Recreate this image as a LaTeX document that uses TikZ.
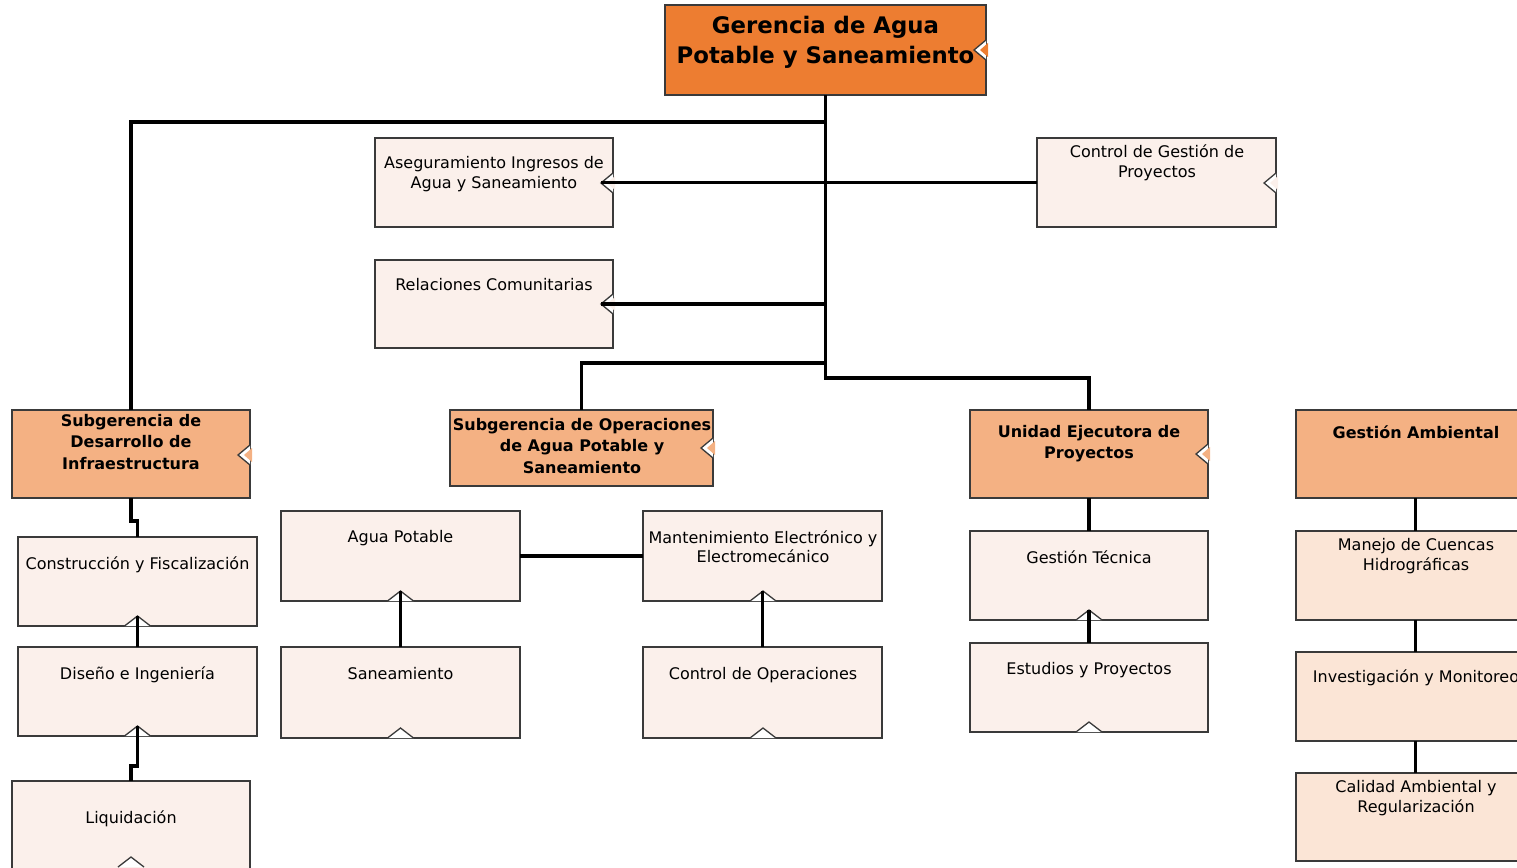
\documentclass[tikz,border=0pt]{standalone}
\usepackage{fontspec}
\setmainfont{DejaVu Sans}
\usetikzlibrary{calc}
\definecolor{cTop}{HTML}{ED7D31}
\definecolor{cSub}{HTML}{F4B183}
\definecolor{cLight}{HTML}{FBF0EB}
\definecolor{cPeach}{HTML}{FBE5D6}
\definecolor{cBorder}{HTML}{3A3A3A}
\newcommand\obox[6]{\node[boxshape,fill=#6,minimum width={(#4-#2)*1pt},minimum height={(#5-#3)*1pt}] (#1) at ({(#2+#4)/2},{(#3+#5)/2}) {};}
\newcommand\rnotch[3]{%
  \fill[white] (#1,#2-10) -- (#1-12,#2) -- (#1,#2+10) -- cycle;
  \fill[#3] (#1-6,#2) -- (#1+2,#2-7) -- (#1+2,#2+7) -- cycle;
  \draw[notchline] (#1,#2-10) -- (#1-12,#2) -- (#1,#2+10);}
\newcommand\bnotch[3]{%
  \fill[white] (#1-13,#2) -- (#1,#2-10) -- (#1+13,#2) -- cycle;
  \draw[notchline] (#1-13,#2) -- (#1,#2-10) -- (#1+13,#2);}
\begin{document}
\begin{tikzpicture}[x=1pt,y=-1pt,
  boxshape/.style={draw=cBorder,line width=1.4pt,rectangle,inner sep=0pt,outer sep=0pt},
  notchline/.style={draw=cBorder,line width=1.3pt,line join=miter},
  conn/.style={line width=3.6pt,black},
  txt/.style={anchor=north,align=center,inner sep=0pt,font=\fontsize{16}{19.8}\selectfont,text=black},
  btxt/.style={anchor=north,align=center,inner sep=0pt,font=\fontsize{16}{21.5}\selectfont\bfseries,text=black},
  ttxt/.style={anchor=north,align=center,inner sep=0pt,font=\fontsize{22.8}{29.5}\selectfont\bfseries,text=black}]
\useasboundingbox (0,0) rectangle (1517,867);
\begin{scope}
\clip (0,0) rectangle (1517,867);
% boxes
\obox{top}{665}{5}{986}{95}{cTop}
\obox{ase}{375}{138}{613}{227}{cLight}
\obox{rc}{375}{260}{613}{348}{cLight}
\obox{cge}{1037}{138}{1276}{227}{cLight}
\obox{sd}{12}{410}{250}{498}{cSub}
\obox{so}{450}{410}{713}{486}{cSub}
\obox{ue}{970}{410}{1208}{498}{cSub}
\obox{ga}{1296}{410}{1535}{498}{cSub}
\obox{cf}{18}{537}{257}{626}{cLight}
\obox{di}{18}{647}{257}{736}{cLight}
\obox{li}{12}{781}{250}{880}{cLight}
\obox{ap}{281}{511}{520}{601}{cLight}
\obox{sa}{281}{647}{520}{738}{cLight}
\obox{me}{643}{511}{882}{601}{cLight}
\obox{co}{643}{647}{882}{738}{cLight}
\obox{gt}{970}{531}{1208}{620}{cLight}
\obox{ep}{970}{643}{1208}{732}{cLight}
\obox{mc}{1296}{531}{1535}{620}{cPeach}
\obox{im}{1296}{652}{1535}{741}{cPeach}
\obox{ca}{1296}{773}{1535}{861}{cPeach}
% texts
\node[ttxt] (top-t) at (825.5,16) {Gerencia de Agua\\Potable y Saneamiento};
\node[txt] (ase-t) at (494,156) {Aseguramiento Ingresos de\\Agua y Saneamiento};
\node[txt] (rc-t) at (494,278) {Relaciones Comunitarias};
\node[txt] (cge-t) at (1157,145) {Control de Gestión de\\Proyectos};
\node[btxt] (sd-t) at (131,414) {Subgerencia de\\Desarrollo de\\Infraestructura};
\node[btxt] (so-t) at (582,418) {Subgerencia de Operaciones\\de Agua Potable y\\Saneamiento};
\node[btxt] (ue-t) at (1089,425) {Unidad Ejecutora de\\Proyectos};
\node[btxt] (ga-t) at (1416,425) {Gestión Ambiental};
\node[txt] (cf-t) at (137.5,556) {Construcción y Fiscalización};
\node[txt] (di-t) at (137.5,666) {Diseño e Ingeniería};
\node[txt] (li-t) at (131,810) {Liquidación};
\node[txt] (ap-t) at (400.5,530) {Agua Potable};
\node[txt] (sa-t) at (400.5,667) {Saneamiento};
\node[txt] (me-t) at (763,530) {Mantenimiento Electrónico y\\Electromecánico};
\node[txt] (co-t) at (763,667) {Control de Operaciones};
\node[txt] (gt-t) at (1089,550) {Gestión Técnica};
\node[txt] (ep-t) at (1089,662) {Estudios y Proyectos};
\node[txt] (mc-t) at (1416,538) {Manejo de Cuencas\\Hidrográficas};
\node[txt] (im-t) at (1416,669) {Investigación y Monitoreo};
\node[txt] (ca-t) at (1416,780) {Calidad Ambiental y\\Regularización};
% notches
\rnotch{986}{50}{cTop}
\rnotch{613}{183}{cLight}
\rnotch{613}{304}{cLight}
\rnotch{1276}{183}{cLight}
\rnotch{250}{455}{cSub}
\rnotch{713}{448}{cSub}
\rnotch{1208}{454}{cSub}
\bnotch{137.5}{626}{cLight}
\bnotch{137.5}{736}{cLight}
\bnotch{131}{867}{cLight}
\bnotch{400.5}{601}{cLight}
\bnotch{400.5}{738}{cLight}
\bnotch{763}{601}{cLight}
\bnotch{763}{738}{cLight}
\bnotch{1089}{620}{cLight}
\bnotch{1089}{732}{cLight}
% junction coordinates
\coordinate (jUE) at (1089,378);
\coordinate (jSD) at (825,122);
\coordinate (jSO) at (825,363);
\coordinate (jCF) at (0,521);
\coordinate (jLI) at (0,766);
% connectors
\draw[conn] (top.south) |- (jUE) -- (ue.north);
\draw[conn] (top.south |- jSD) -| (sd.north);
\draw[conn] (top.south |- jSO) -| (so.north);
\draw[conn] ([xshift=-12pt]ase.east) -- (cge.west);
\draw[conn] ([xshift=-12pt]rc.east) -- (rc.east -| top.south);
\draw[conn] (sd.south) -- (sd.south |- jCF) -| (cf.north);
\draw[conn] ([yshift=10pt]cf.south) -- (di.north);
\draw[conn] ([yshift=10pt]di.south) -- (di.south |- jLI) -| (li.north);
\draw[conn] (ap.east) -- (me.west |- ap.east);
\draw[conn] ([yshift=10pt]ap.south) -- (sa.north);
\draw[conn] ([yshift=10pt]me.south) -- (co.north);
\draw[conn] (ue.south) -- (gt.north);
\draw[conn] ([yshift=10pt]gt.south) -- (ep.north);
\draw[conn] (ga.south) -- (mc.north);
\draw[conn] (mc.south) -- (im.north);
\draw[conn] (im.south) -- (ca.north);
\end{scope}
\end{tikzpicture}
\end{document}
